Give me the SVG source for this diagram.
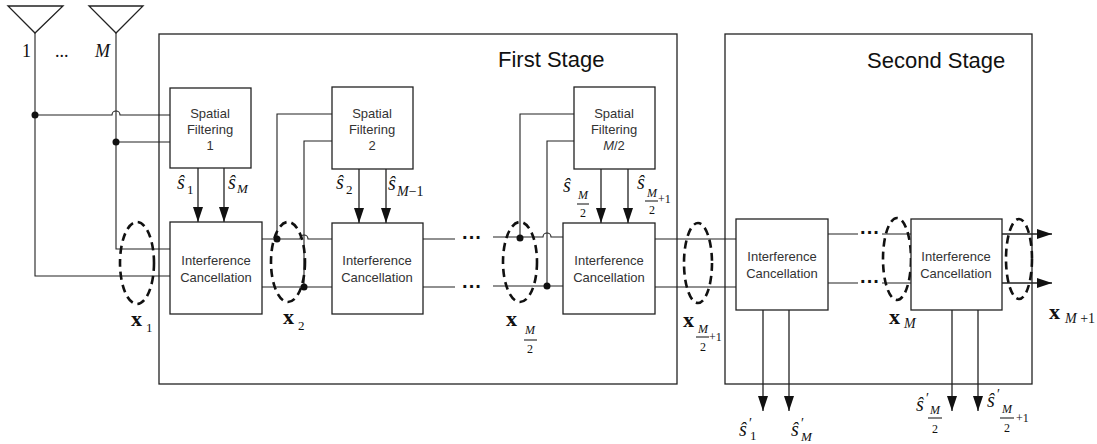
<svg xmlns="http://www.w3.org/2000/svg" width="1097" height="444" viewBox="0 0 1097 444">
<defs>
<marker id="ah" viewBox="0 0 15 10" refX="15" refY="5" markerWidth="15" markerHeight="10" markerUnits="userSpaceOnUse" orient="auto">
<path d="M0,0 L15,5 L0,10 z" fill="#111"/>
</marker>
<style>
.ln{fill:none;stroke:#222;stroke-width:1.1}
.bx{fill:#fff;stroke:#222;stroke-width:1.3}
.st{fill:none;stroke:#222;stroke-width:1.3}
.ar{fill:none;stroke:#222;stroke-width:1.3;marker-end:url(#ah)}
.el{fill:none;stroke:#111;stroke-width:2.6;stroke-dasharray:8,5}
.dot{fill:#111}
.t{font-family:"Liberation Sans",Arial,sans-serif;font-size:13px;fill:#333;text-anchor:middle}
.dd{font-family:"Liberation Sans",Arial,sans-serif;font-size:20px;font-weight:bold;fill:#111;text-anchor:middle}
.h{font-family:"Liberation Sans",Arial,sans-serif;font-size:22px;fill:#111}
.m{font-family:"Liberation Serif","Times New Roman",serif;fill:#111}
.mi{font-family:"Liberation Serif","Times New Roman",serif;font-style:italic;fill:#111}
.xb{font-family:"Liberation Serif","Times New Roman",serif;font-weight:bold;font-size:22px;fill:#111}
</style>
</defs>
<rect width="1097" height="444" fill="#fff"/>

<g id="stage1">
<rect x="159" y="34" width="518" height="350" class="st"/>
<text x="498" y="67" class="h">First Stage</text>
</g>
<g id="stage2">
<rect x="725" y="34" width="307" height="350" class="st"/>
<text x="867" y="68" class="h">Second Stage</text>
</g>

<g id="antenna1">
<path d="M8,6 H63 L35,33 Z" class="st"/>
<text x="22" y="57" class="m" font-size="18">1</text>
<text x="55" y="57" class="m" font-size="18">...</text>
</g>
<g id="antennaM">
<path d="M89,6 H143 L116,33 Z" class="st"/>
<text x="95" y="57" class="mi" font-size="18">M</text>
</g>

<g id="connectors">
<path d="M35,33 V276 H170" class="ln"/>
<path d="M116,33 V249 H170" class="ln"/>
<path d="M35,115 H112 A4,4 0 0 1 120,115 H170" class="ln"/>
<path d="M116,142 H170" class="ln"/>
<path d="M262,239 H300 A4,4 0 0 1 308,239 H332" class="ln"/>
<path d="M262,287 H332" class="ln"/>
<path d="M277,239 V114 H332" class="ln"/>
<path d="M304,287 V141 H332" class="ln"/>
<path d="M423,239 H455 M423,287 H455" class="ln"/>
<path d="M493,237 H543 A4,4 0 0 1 551,237 H563" class="ln"/>
<path d="M493,286 H563" class="ln"/>
<path d="M520,237 V114 H574" class="ln"/>
<path d="M547,286 V141 H574" class="ln"/>
<path d="M655,239 H736 M655,287 H736" class="ln"/>
<path d="M828,234 H858 M882,234 H911 M828,283 H858 M882,283 H911" class="ln"/>
<path d="M198,168 V222" class="ar"/>
<path d="M224,168 V222" class="ar"/>
<path d="M359,169 V223" class="ar"/>
<path d="M386,169 V223" class="ar"/>
<path d="M601,169 V223" class="ar"/>
<path d="M628,169 V223" class="ar"/>
<path d="M1002,234 H1052" class="ar"/>
<path d="M1002,283 H1052" class="ar"/>
<path d="M763,310 V411" class="ar"/>
<path d="M789,310 V411" class="ar"/>
<path d="M952,310 V411" class="ar"/>
<path d="M978,310 V411" class="ar"/>
<circle cx="35" cy="115" r="3.5" class="dot"/>
<circle cx="116" cy="142" r="3.5" class="dot"/>
<circle cx="277" cy="239" r="3.5" class="dot"/>
<circle cx="304" cy="287" r="3.5" class="dot"/>
<circle cx="520" cy="238" r="3.5" class="dot"/>
<circle cx="547" cy="286" r="3.5" class="dot"/>
<text x="472" y="244" class="dd">···</text>
<text x="472" y="293" class="dd">···</text>
<text x="870" y="239" class="dd">···</text>
<text x="870" y="288" class="dd">···</text>
<ellipse cx="137" cy="263" rx="17" ry="41" class="el"/>
<ellipse cx="288" cy="262" rx="17" ry="40" class="el"/>
<ellipse cx="520" cy="262" rx="17" ry="40" class="el"/>
<ellipse cx="698" cy="263" rx="14" ry="40" class="el"/>
<ellipse cx="897" cy="259" rx="14" ry="41" class="el"/>
<ellipse cx="1019" cy="259" rx="13" ry="40" class="el"/>
</g>

<g id="sf1">
<rect x="170" y="88" width="81" height="80" class="bx"/>
<text x="210" y="118" class="t">Spatial</text>
<text x="210" y="134" class="t">Filtering</text>
<text x="210" y="150" class="t">1</text>
</g>
<g id="sf2">
<rect x="332" y="87" width="81" height="82" class="bx"/>
<text x="372" y="118" class="t">Spatial</text>
<text x="372" y="134" class="t">Filtering</text>
<text x="372" y="150" class="t">2</text>
</g>
<g id="sf3">
<rect x="574" y="87" width="81" height="82" class="bx"/>
<text x="614" y="118" class="t">Spatial</text>
<text x="614" y="134" class="t">Filtering</text>
<text x="614" y="150" class="t"><tspan font-style="italic">M</tspan>/2</text>
</g>

<g id="ic1">
<rect x="170" y="222" width="92" height="92" class="bx"/>
<text x="216" y="265" class="t">Interference</text>
<text x="216" y="282" class="t">Cancellation</text>
</g>
<g id="ic2">
<rect x="332" y="223" width="91" height="91" class="bx"/>
<text x="377" y="265" class="t">Interference</text>
<text x="377" y="282" class="t">Cancellation</text>
</g>
<g id="ic3">
<rect x="563" y="223" width="92" height="91" class="bx"/>
<text x="609" y="265" class="t">Interference</text>
<text x="609" y="282" class="t">Cancellation</text>
</g>
<g id="ic4">
<rect x="736" y="219" width="92" height="91" class="bx"/>
<text x="782" y="261" class="t">Interference</text>
<text x="782" y="278" class="t">Cancellation</text>
</g>
<g id="ic5">
<rect x="911" y="219" width="91" height="91" class="bx"/>
<text x="956" y="261" class="t">Interference</text>
<text x="956" y="278" class="t">Cancellation</text>
</g>

<g id="labels">
<text x="177" y="189" class="mi" font-size="20">ŝ</text>
<text x="187" y="194" class="m" font-size="13">1</text>
<text x="228" y="189" class="mi" font-size="20">ŝ</text>
<text x="237" y="193" class="mi" font-size="13">M</text>
<text x="336" y="189" class="mi" font-size="20">ŝ</text>
<text x="346" y="194" class="m" font-size="13">2</text>
<text x="388" y="190" class="mi" font-size="20">ŝ</text>
<text x="397" y="196" class="mi" font-size="14">M<tspan font-style="normal">−1</tspan></text>
<text x="563" y="192" class="mi" font-size="20">ŝ</text>
<text x="583" y="199" class="mi" font-size="12" text-anchor="middle">M</text>
<path d="M577,204 H589" class="ln"/>
<text x="583" y="217" class="m" font-size="12" text-anchor="middle">2</text>
<text x="637" y="189" class="mi" font-size="20">ŝ</text>
<text x="652" y="197" class="mi" font-size="12" text-anchor="middle">M</text>
<path d="M645,201 H658" class="ln"/>
<text x="652" y="214" class="m" font-size="12" text-anchor="middle">2</text>
<text x="658" y="203" class="m" font-size="12">+1</text>
<text x="131" y="326" class="xb">x</text>
<text x="146" y="332" class="m" font-size="13">1</text>
<text x="283" y="324" class="xb">x</text>
<text x="298" y="330" class="m" font-size="13">2</text>
<text x="506" y="326" class="xb">x</text>
<text x="530" y="334" class="mi" font-size="12" text-anchor="middle">M</text>
<path d="M524,340 H537" class="ln"/>
<text x="530" y="353" class="m" font-size="12" text-anchor="middle">2</text>
<text x="683" y="327" class="xb">x</text>
<text x="703" y="333" class="mi" font-size="12" text-anchor="middle">M</text>
<path d="M696,337 H709" class="ln"/>
<text x="703" y="351" class="m" font-size="12" text-anchor="middle">2</text>
<text x="709" y="341" class="m" font-size="12">+1</text>
<text x="889" y="324" class="xb">x</text>
<text x="904" y="328" class="mi" font-size="14">M</text>
<text x="1049" y="319" class="xb">x</text>
<text x="1065" y="323" class="mi" font-size="14">M <tspan font-style="normal">+1</tspan></text>
<text x="739" y="436" class="mi" font-size="20">ŝ</text>
<text x="749" y="428" class="m" font-size="14">′</text>
<text x="750" y="440" class="m" font-size="13">1</text>
<text x="791" y="436" class="mi" font-size="20">ŝ</text>
<text x="801" y="428" class="m" font-size="14">′</text>
<text x="801" y="441" class="mi" font-size="13">M</text>
<text x="916" y="411" class="mi" font-size="20">ŝ</text>
<text x="926" y="403" class="m" font-size="14">′</text>
<text x="935" y="414" class="mi" font-size="12" text-anchor="middle">M</text>
<path d="M928,418 H942" class="ln"/>
<text x="935" y="433" class="m" font-size="12" text-anchor="middle">2</text>
<text x="987" y="407" class="mi" font-size="20">ŝ</text>
<text x="997" y="399" class="m" font-size="14">′</text>
<text x="1007" y="413" class="mi" font-size="12" text-anchor="middle">M</text>
<path d="M1000,418 H1014" class="ln"/>
<text x="1007" y="432" class="m" font-size="12" text-anchor="middle">2</text>
<text x="1016" y="422" class="m" font-size="12">+1</text>
</g>
</svg>
